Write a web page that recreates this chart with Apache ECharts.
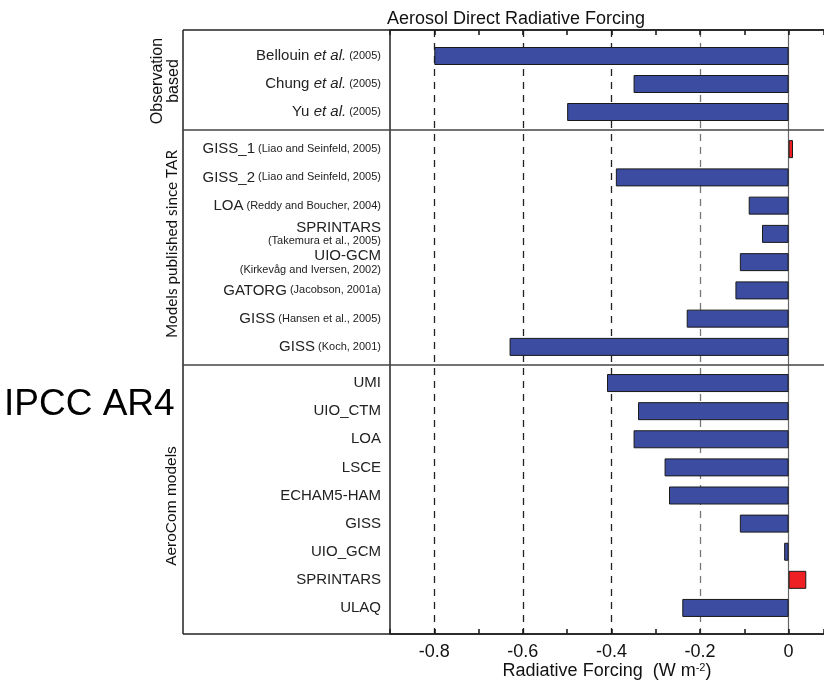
<!DOCTYPE html>
<html>
<head>
<meta charset="utf-8">
<script src="https://cdn.jsdelivr.net/npm/echarts@6/dist/echarts.min.js"></script>
<style>
  html, body { margin: 0; padding: 0; background: #fff; }
  #main { width: 824px; height: 682px; }
</style>
</head>
<body>
<div id="main"></div>
<script>
// observation based
var obsNames = ['Bellouin', 'Chung', 'Yu'];
var obsRefs = ['(2005)', '(2005)', '(2005)'];
var obsValues = [-0.8, -0.35, -0.5];

// models published since TAR
var tarNames = ['GISS_1', 'GISS_2', 'LOA', 'SPRINTARS', 'UIO-GCM', 'GATORG', 'GISS', 'GISS'];
var tarRefs = ['(Liao and Seinfeld, 2005)', '(Liao and Seinfeld, 2005)', '(Reddy and Boucher, 2004)',
  '(Takemura et al., 2005)', '(Kirkevåg and Iversen, 2002)', '(Jacobson, 2001a)',
  '(Hansen et al., 2005)', '(Koch, 2001)'];
var tarValues = [0.01, -0.39, -0.09, -0.06, -0.11, -0.12, -0.23, -0.63];

// AeroCom models
var aeroNames = ['UMI', 'UIO_CTM', 'LOA', 'LSCE', 'ECHAM5-HAM', 'GISS', 'UIO_GCM', 'SPRINTARS', 'ULAQ'];
var aeroValues = [-0.41, -0.34, -0.35, -0.28, -0.27, -0.11, -0.01, 0.04, -0.24];

var font = 'Liberation Sans, Arial, sans-serif';
var xMin = -0.9, xMax = 0.08;

var chart = echarts.init(document.getElementById('main'));

function barColor(p) {
  return p.value > 0 ? '#ee2024' : '#3b4ca1';
}

var labelRich = {
  n: { fontSize: 15, color: '#222', fontFamily: font, lineHeight: 15 },
  i: { fontSize: 15, color: '#222', fontFamily: font, fontStyle: 'italic', lineHeight: 15 },
  r: { fontSize: 11, color: '#222', fontFamily: font, lineHeight: 13 }
};

function catAxis(grid, data, fmt) {
  return {
    type: 'category', gridIndex: grid, inverse: true, data: data,
    axisLine: { show: false }, axisTick: { show: false },
    axisLabel: { margin: 9, align: 'right', formatter: fmt, rich: labelRich }
  };
}

function hiddenX(grid) {
  return { type: 'value', gridIndex: grid, min: xMin, max: xMax, show: false, splitLine: { show: false } };
}

function barSeries(idx, data) {
  return {
    type: 'bar', xAxisIndex: idx + 1, yAxisIndex: idx, data: data,
    barWidth: 18, silent: true,
    itemStyle: { color: barColor, borderColor: '#1a1a1a', borderWidth: 1 }
  };
}

var lineSty = { stroke: '#222', lineWidth: 1.5 };
var clear = 'rgba(0,0,0,0)';

chart.setOption({
  animation: false,
  title: {
    text: 'Aerosol Direct Radiative Forcing', left: 511, top: 5, textAlign: 'center',
    textStyle: { fontFamily: font, fontSize: 18, fontWeight: 'normal', color: '#111' }
  },
  grid: [
    { left: 390, right: 0, top: 30, bottom: 48, outerBoundsMode: 'none' },
    { left: 390, right: 0, top: 42, height: 84, outerBoundsMode: 'none' },
    { left: 390, right: 0, top: 135, height: 226, outerBoundsMode: 'none' },
    { left: 390, right: 0, top: 369, height: 253, outerBoundsMode: 'none' }
  ],
  xAxis: [
    {
      type: 'value', gridIndex: 0, min: xMin, max: xMax, interval: 0.1, position: 'bottom',
      axisLine: { show: true, onZero: false, lineStyle: { color: '#111', width: 1.5 } },
      axisTick: { show: true, inside: true, length: 5, lineStyle: { color: '#111', width: 1.5 } },
      // dashed reference lines at -0.8, -0.6, -0.4, -0.2 (one colour per tick from -0.9)
      splitLine: {
        show: true,
        lineStyle: {
          color: [clear, '#222', clear, '#222', clear, '#222', clear, '#777', clear, clear, clear],
          type: [7, 6], width: 1.3
        }
      },
      axisLabel: {
        margin: 9, fontSize: 18, fontFamily: font, color: '#111',
        formatter: function (v) {
          var k = Math.round(v * 10);
          if (Math.abs(v * 10 - k) > 1e-6 || k % 2 !== 0) return '';
          return k === 0 ? '0' : (k / 10).toFixed(1);
        }
      },
      name: 'Radiative Forcing  (W m{s|-2})', nameLocation: 'middle', nameGap: 28,
      nameMoveOverlap: false,
      nameTextStyle: {
        fontSize: 18, fontFamily: font, color: '#111',
        rich: { s: { fontSize: 11, fontFamily: font, color: '#111', verticalAlign: 'top', padding: [0, 0, 8, 0] } }
      }
    },
    {
      type: 'value', gridIndex: 0, min: xMin, max: xMax, interval: 0.1, position: 'top',
      axisLine: { show: true, onZero: false, lineStyle: { color: '#111', width: 1.5 } },
      axisTick: { show: true, inside: true, length: 5, lineStyle: { color: '#111', width: 1.5 } },
      axisLabel: { show: false }, splitLine: { show: false }
    },
    hiddenX(1), hiddenX(2), hiddenX(3)
  ],
  yAxis: [
    {
      // sits on x = 0 and draws the solid zero line
      type: 'value', gridIndex: 0, min: 0, max: 1,
      axisLine: { show: true, onZero: true, lineStyle: { color: '#666', width: 1.2 } },
      axisTick: { show: false }, axisLabel: { show: false }, splitLine: { show: false }
    },
    catAxis(1, obsNames, function (v, i) {
      return '{n|' + obsNames[i] + ' }{i|et al.}{r| ' + obsRefs[i] + '}';
    }),
    catAxis(2, tarNames.map(function (n, i) { return n + ' ' + tarRefs[i]; }), function (v, i) {
      var name = tarNames[i], ref = tarRefs[i];
      if (name.length + ref.length + 1 > 32) return '{n|' + name + '}\n{r|' + ref + '}';
      return '{n|' + name + '}{r| ' + ref + '}';
    }),
    catAxis(3, aeroNames, function (v) { return '{n|' + v + '}'; })
  ],
  series: [
    barSeries(1, obsValues),
    barSeries(2, tarValues),
    barSeries(3, aeroValues)
  ],
  graphic: [
    { type: 'line', shape: { x1: 183, y1: 30, x2: 183, y2: 634 }, style: lineSty, z: 10 },
    { type: 'line', shape: { x1: 183, y1: 30, x2: 824, y2: 30 }, style: lineSty, z: 10 },
    { type: 'line', shape: { x1: 183, y1: 634, x2: 824, y2: 634 }, style: lineSty, z: 10 },
    { type: 'line', shape: { x1: 390, y1: 30, x2: 390, y2: 634 }, style: lineSty, z: 10 },
    { type: 'line', shape: { x1: 183, y1: 130, x2: 824, y2: 130 }, style: { stroke: '#444', lineWidth: 1.3 }, z: 10 },
    { type: 'line', shape: { x1: 183, y1: 365, x2: 824, y2: 365 }, style: { stroke: '#444', lineWidth: 1.3 }, z: 10 },
    {
      type: 'text', x: 166, y: 81, rotation: Math.PI / 2,
      style: { text: 'Observation\nbased', fontFamily: font, fontSize: 16, lineHeight: 16, fill: '#111', align: 'center', verticalAlign: 'middle' }
    },
    {
      type: 'text', x: 172, y: 244, rotation: Math.PI / 2,
      style: { text: 'Models published since TAR', fontFamily: 'Lato, sans-serif', fontSize: 15.3, fill: '#111', align: 'center', verticalAlign: 'middle' }
    },
    {
      type: 'text', x: 172, y: 506, rotation: Math.PI / 2,
      style: { text: 'AeroCom models', fontFamily: font, fontSize: 15.5, fill: '#111', align: 'center', verticalAlign: 'middle' }
    },
    {
      type: 'text', x: 4, y: 405,
      style: { text: 'IPCC AR4', fontFamily: font, fontSize: 37, fill: '#000', align: 'left', verticalAlign: 'middle' }
    }
  ]
});
</script>
</body>
</html>
